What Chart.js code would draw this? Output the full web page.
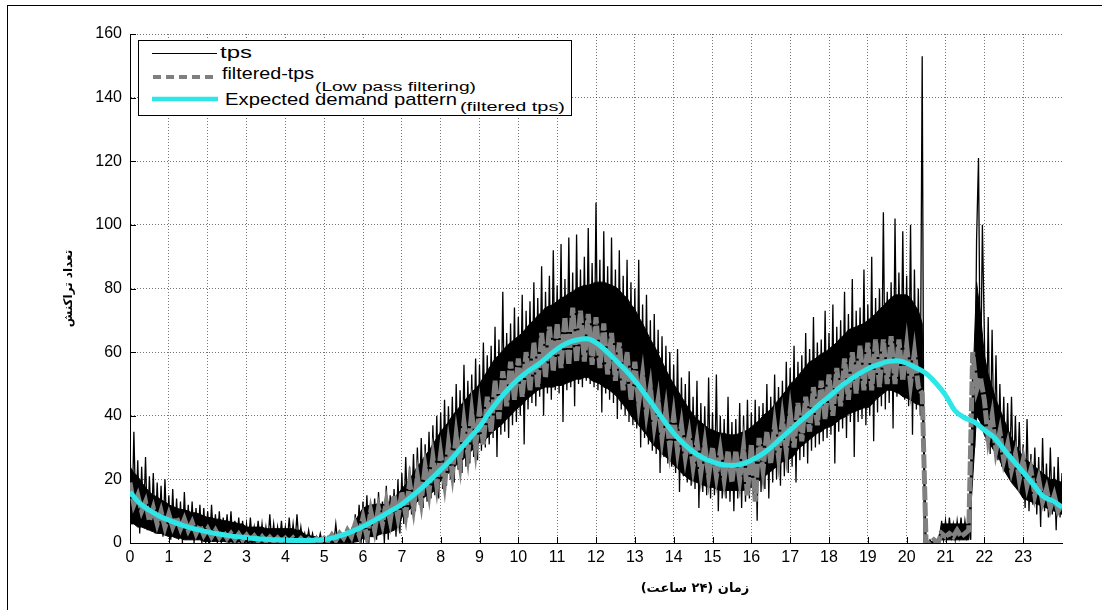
<!DOCTYPE html>
<html><head><meta charset="utf-8">
<script src="https://cdn.jsdelivr.net/npm/chart.js@4.4.1/dist/chart.umd.min.js"></script>
<style>
html,body{margin:0;padding:0;background:#fff;}
#wrap{position:relative;width:1102px;height:610px;overflow:hidden;background:#fff;}
#c{position:absolute;left:0;top:0;}
#frame{position:absolute;left:7px;top:5px;width:1200px;height:700px;border:1.5px solid #000;box-sizing:border-box;}
#xtitle{position:absolute;left:595px;width:200px;top:580px;line-height:16px;text-align:center;font-family:'DejaVu Sans',sans-serif;font-weight:bold;font-size:13px;color:#000;}
#leg{position:absolute;left:0;top:0;pointer-events:none;}
</style></head>
<body><div id="wrap">
<div id="frame"></div>
<canvas id="c" width="1102" height="610"></canvas>
<svg id="leg" width="1102" height="610">
<rect x="138.5" y="40.5" width="433" height="75" fill="#fff" stroke="#000" stroke-width="1"/>
<line x1="152" y1="53.5" x2="217" y2="53.5" stroke="#000" stroke-width="1"/>
<line x1="153" y1="77" x2="218" y2="77" stroke="#7f7f7f" stroke-width="4" stroke-dasharray="8 5"/>
<line x1="152" y1="99" x2="218" y2="99" stroke="#2ce6e8" stroke-width="4.5"/>
<g font-family="Liberation Sans, Arial, sans-serif" fill="#000">
<text x="220" y="58" font-size="17" textLength="32" lengthAdjust="spacingAndGlyphs">tps</text>
<text x="222" y="79" font-size="17" textLength="92" lengthAdjust="spacingAndGlyphs">filtered-tps</text>
<text x="315" y="91" font-size="12" textLength="161" lengthAdjust="spacingAndGlyphs">(Low pass filtering)</text>
<text x="225" y="105" font-size="17" textLength="232" lengthAdjust="spacingAndGlyphs">Expected demand pattern</text>
<text x="460" y="111" font-size="12" textLength="105" lengthAdjust="spacingAndGlyphs">(filtered tps)</text>
</g></svg>
<div id="xtitle" dir="rtl">زمان (۲۴ ساعت)</div>
</div>
<script>
// ---- data ----
const hourTicks = [0,1,2,3,4,5,6,7,8,9,10,11,12,13,14,15,16,17,18,19,20,21,22,23];
const yTicks = [0,20,40,60,80,100,120,140,160];
const yTitle = 'تعداد تراکنش';

// raw tps, sampled every 0.05 h (from 0 to 24 h)
const tpsStep = 0.05;
const tpsValues = [
 30,6,35,8,26,3,24,7,27,4,21,5,22,3,19,4,18,2,20,3,
 15,1,17,2,14,1,13,0,16,1,12,1,13,0,11,1,12,0,11,0,
 10,0,12,1,9,0,10,0,8,1,9,0,10,0,7,0,8,0,7,0,
 6,0,8,0,5,1,7,0,6,0,5,0,9,0,6,0,5,0,7,0,
 5,0,8,0,6,0,9,0,5,0,3,0,4,0,3,0,2,0,3,0,
 1,0,2,0,2,0,6,0,3,0,2,0,3,1,4,0,9,1,12,0,
 13,1,15,0,12,2,14,1,16,3,13,0,18,1,15,4,17,2,20,3,
 22,6,27,8,24,9,28,10,30,12,33,11,31,13,35,14,37,15,40,14,
 41,17,45,18,43,20,46,19,50,23,48,22,56,24,51,25,53,27,58,26,
 56,29,63,30,59,31,62,33,68,27,64,34,79,35,66,33,69,37,74,38,
 71,40,78,31,73,42,76,44,82,43,77,46,87,40,79,47,84,45,92,48,
 81,47,94,38,83,48,96,49,85,43,97,50,86,49,90,51,99,50,88,49,
 107,48,89,41,98,47,87,45,96,44,86,39,92,42,84,40,89,38,82,37,
 80,36,89,30,75,33,78,31,70,29,72,28,67,22,65,27,62,25,60,24,
 56,22,61,16,52,21,50,19,54,18,46,17,51,11,44,16,43,15,52,14,
 41,15,53,10,40,14,39,14,46,13,38,10,39,14,44,11,40,13,45,14,
 41,15,45,7,43,16,44,17,50,14,46,19,53,20,49,18,51,21,57,22,
 55,24,62,19,57,26,59,27,66,25,61,29,71,30,63,31,64,32,73,33,
 66,34,75,25,68,35,70,36,79,33,72,38,83,27,73,38,74,39,86,37,
 75,40,90,32,77,41,80,43,104,42,79,44,82,36,102,46,85,47,98,45,
 84,43,100,34,86,42,80,40,153,0,1,0,1,0,1,0,1,0,7,1,
 7,1,8,2,6,1,7,2,8,1,7,2,6,1,58,30,95,121,45,100,
 66,32,71,28,67,30,59,26,50,24,46,22,44,21,46,19,40,18,38,17,
 31,11,39,10,28,12,30,9,27,5,33,10,25,8,30,9,24,4,27,8,
 22
];

// dense core of the tps trace (where the black is solid), sampled every 0.1 h
const coreStep = 0.1;
const tpsCoreHigh = [
 24,22,21,19,17.5,16,15,14.5,13.5,13,
 12,11.5,11,10.5,10.5,10,9.5,9.5,9,8.5,
 8,8,7.5,7.5,7,7,6.5,6.5,6,6,
 5,5,5,5,5,4.5,4.5,4.5,4.5,4.5,
 4.5,4.5,4.5,4,4,2.5,2.5,2,2,1.5,
 1.5,1.5,1.5,2,2,2.5,2.5,4,7,9,
 11,11.5,12,12,12.5,12,12.5,13,14,15.5,
 17,18.5,20,22,24,25.5,27.5,29,31,33,
 35,36.5,38,40,41.5,43,44.5,46,47.5,48.5,
 50,52,54,56,58,59,60.5,62,63,64,
 65,66,67.5,69,70,71.5,72.5,74,74.5,75,
 76,77,77.5,78.5,79,80,80.5,81,81,81.5,
 82,82,82,81.5,81,80.5,79.5,78,77,75,
 73.5,71,69,66.5,64,62,59.5,57,54.5,52,
 50,48,46,44,42,40.5,39,38,37,36,
 35.5,35,34.5,34.5,34,34,34,34.5,35,35.5,
 36.5,37.5,38.5,40,41,42,43.5,45,46.5,48,
 50,51,52.5,54,55.5,57,57.5,58.5,59.5,60,
 61,62,63,64.5,65.5,67,67.5,68,68.5,69,
 70,71,72,73.5,74.5,76,77,78,78,78,
 78,77,75,73,69,0.5,0.5,0.5,0.5,6,
 6,6,6,6,6,6,6,48,82,72,
 59,53,49,45,42,39,36,33,31,29,
 27,26,25,24,23,22,21,20,20,19.5,
 19
];
const tpsCoreLow = [
 6,6,5,5,4.5,4,3.5,3,3,2.5,
 2,2,1.5,1.5,1,1,1,1,1,0.5,
 0.5,0.5,0.5,0.5,0.5,0.3,0.3,0.3,0.3,0.3,
 0.2,0.2,0.2,0.2,0.2,0.2,0.2,0.2,0.2,0.2,
 0.2,0.2,0.2,0.2,0.2,0.2,0.2,0.2,0.2,0.2,
 0.1,0.1,0.1,0.1,0.1,0.1,0.1,0.2,0.3,0.5,
 1.5,2,2,2,2.5,3,3,3.5,4,5,
 8,9.5,10.5,12,13,14,14.5,15.5,16,17.5,
 19.5,20.5,22,23,24.5,25.5,26.5,28,29,30.5,
 31.5,32,33,34.5,35.5,36.5,37.5,39,40,41.5,
 42.5,43.5,45,46,47,48,48.5,49,49,49,
 49.5,49.5,50,50.5,51,51.5,51.5,52,52,51,
 50.5,50,49,48.5,47.5,46.5,45,43.5,42,40,
 38.5,37,35.5,34,32,30.5,29.5,28,27,26,
 24.5,23.5,22,21,20,19.5,19,18.5,18,17.5,
 17.5,17,16.5,16.5,16.5,16.5,16.5,16.5,16.5,17,
 17.5,18.5,19.5,20.5,21.5,22.5,23.5,24.5,25.5,26,
 26.5,27.5,29.5,30.5,31.5,32.5,33.5,34.5,35,36,
 36.5,37,38,39,39.5,40.5,41,41.5,42,42.5,
 42.5,43.5,45,46,47,48,48,47.5,47,46,
 45.5,45,44,43.5,43,0,0,0,0,1,
 1,1,1,1,1,1,1,20,40,38,
 34,32,30,28,26,23,21,19,17.5,16,
 14,13.5,13,12.5,12,11.5,11,10.5,10,9.5,
 9
];

// filtered-tps (low pass), sampled every 0.1 h
const filteredStep = 0.1;
const filteredValues = [
 19,12,15,10,13,7,11,6,10,5,
 9,5,8,4.5,7.5,4,6.5,3,5.5,2.5,
 4.5,2,4,1.8,3.5,1.5,3,1.2,2.8,1,
 2.5,0.8,2.2,0.6,2,0.5,1.8,0.4,1.6,0.3,
 1.5,0.3,1.6,0.2,1.4,0.2,1.2,0.3,1.3,0.4,
 1.5,0.5,2.5,0.8,3,1.5,4,2,6,2.5,
 8,2,10,4,11,6,13,7,15,8,
 16,9,19,11,21,13,24,16,27,18,
 28,19,31,22,34,25,38,28,41,30,
 42,31,46,35,51,39,54,43,57,45,
 58,46,60,48,63,49,66,52,68,54,
 69,55,71,56,74,57,73,57,72,56,
 71,55,69,53,66,51,63,48,60,45,
 57,44,53,41,49,37,45,33,42,30,
 40,29,37,27,34,24,32,22,31,21,
 30,21,29,20,29,19,29,20,30,15,
 31,13,33,23,35,25,37,27,39,29,
 41,30,44,32,46,35,49,37,51,39,
 53,40,55,43,58,45,60,47,62,48,
 63,48,64,49,64,50,65,50,64,51,
 62,50,60,49,47,0,0,1,0,3,
 2,3,2,4,2,3,4,60,48,52,
 45,33,40,29,35,26,31,23,28,20,
 26,18,23,15,20,13,17,11,15,10,
 12
];

// expected demand pattern (filtered tps), sampled every 0.25 h
const expectedStep = 0.25;
const expectedValues = [
 16,12.5,10.3,8.5, 7.2,6,5,4.2, 3.5,2.9,2.4,2, 1.7,1.4,1.2,1.0,
 0.9,0.8,0.8,0.9, 1.1,1.7,2.6,3.8, 5.2,6.8,8.5,10.3, 12.2,14.6,17.2,20,
 23,26,29.5,33, 36.5,41,45,48.5, 51.5,54,56,58.5, 61,62.8,63.8,64.2,
 63,60.5,57.5,54.5, 51,47,42.8,38.5, 34.5,31.3,28.7,26.8, 25.5,24.6,24.4,24.8,
 26,27.7,30,32.7, 35.5,38.2,40.8,43.5, 46,48.7,51,53, 54.8,56,57,57.3,
 56.5,55,53.3,50.3, 46.5,41.5,39.3,38, 35.5,33.2,29.5,25.8, 22.3,18.6,14.8,13.3,
 11.3
];

// ---- chart ----
const toXY = (vals, step) => vals.map((v, i) => ({x: Math.round(i * step * 1000) / 1000, y: v}));

const insideTicks = {
  id: 'insideTicks',
  afterDatasetsDraw(chart) {
    const {ctx, chartArea, scales} = chart;
    ctx.save();
    ctx.strokeStyle = '#000';
    ctx.lineWidth = 1;
    ctx.beginPath();
    scales.x.ticks.forEach(t => {
      const px = Math.round(scales.x.getPixelForValue(t.value)) + 0.5;
      ctx.moveTo(px, chartArea.bottom); ctx.lineTo(px, chartArea.bottom - 6);
    });
    scales.y.ticks.forEach(t => {
      const py = Math.round(scales.y.getPixelForValue(t.value)) + 0.5;
      ctx.moveTo(chartArea.left, py); ctx.lineTo(chartArea.left + 6, py);
    });
    ctx.stroke();
    ctx.restore();
  }
};

const tickFont = {family: 'Liberation Sans', size: 16};
const gridColor = 'rgba(0,0,0,0.55)';

new Chart(document.getElementById('c'), {
  type: 'line',
  data: {
    datasets: [
      {label: 'Expected demand pattern', data: toXY(expectedValues, expectedStep), borderColor: '#2ce6e8',
       borderWidth: 5, pointRadius: 0, cubicInterpolationMode: 'monotone', order: 1},
      {label: 'filtered-tps', data: toXY(filteredValues, filteredStep), borderColor: '#808080',
       borderWidth: 5, borderDash: [14, 2], pointRadius: 0, tension: 0, order: 2},
      {label: 'tps', data: toXY(tpsValues, tpsStep), borderColor: '#000',
       borderWidth: 1.3, pointRadius: 0, tension: 0, order: 3},
      {label: 'tps core high', data: toXY(tpsCoreHigh, coreStep), borderColor: '#000',
       borderWidth: 1, pointRadius: 0, tension: 0, fill: false, order: 5},
      {label: 'tps core low', data: toXY(tpsCoreLow, coreStep), borderColor: '#000',
       borderWidth: 1, pointRadius: 0, tension: 0, fill: 3, backgroundColor: '#000', order: 4}
    ]
  },
  options: {
    responsive: false,
    animation: false,
    events: [],
    layout: {padding: {left: 0, right: 40, top: 34, bottom: 37}},
    plugins: {legend: {display: false}, tooltip: {enabled: false}},
    scales: {
      x: {
        type: 'linear', min: 0, max: 24,
        afterFit: s => { s.height = 30; },
        afterBuildTicks: s => { s.ticks = hourTicks.map(v => ({value: v})); },
        ticks: {autoSkip: false, maxRotation: 0, padding: 5, color: '#000', font: tickFont},
        grid: {drawTicks: false, color: gridColor, lineWidth: 1},
        border: {display: true, color: '#000', width: 1, dash: [1, 2]}
      },
      y: {
        min: 0, max: 160,
        afterFit: s => { s.width = 130; },
        afterBuildTicks: s => { s.ticks = yTicks.map(v => ({value: v})); },
        ticks: {padding: 8, color: '#000', font: tickFont},
        title: {display: true, text: yTitle, color: '#000',
                font: {family: 'DejaVu Sans', size: 12, weight: 'bold'}, padding: {top: 62, bottom: 0}},
        grid: {drawTicks: false, color: gridColor, lineWidth: 1},
        border: {display: true, color: '#000', width: 1, dash: [1, 2]}
      }
    }
  },
  plugins: [insideTicks]
});
</script>
</body></html>
